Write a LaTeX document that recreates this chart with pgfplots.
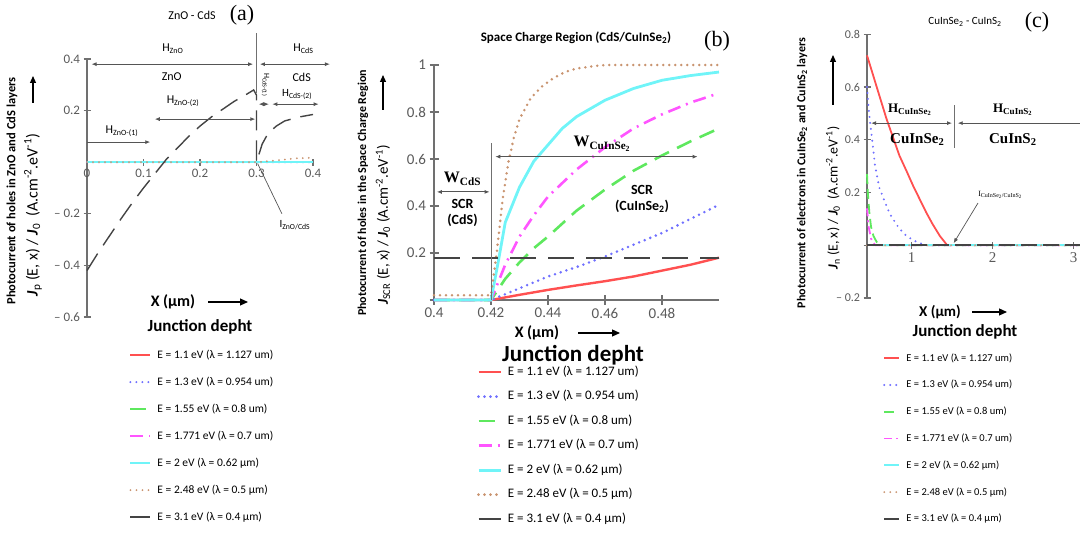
\documentclass[border=0pt]{standalone}
\usepackage{pgfplots}
\pgfplotsset{compat=1.18}
\usepackage{fontspec}
\setmainfont{Carlito}
\newfontfamily\serif{Liberation Serif}
\usetikzlibrary{arrows.meta}

\definecolor{cRed}{HTML}{FF5050}
\definecolor{cBlue}{HTML}{7070FF}
\definecolor{cGreen}{HTML}{5EE85E}
\definecolor{cMag}{HTML}{FF55FF}
\definecolor{cCyan}{HTML}{70F4F8}
\definecolor{cBrown}{HTML}{C99470}
\definecolor{cBlack}{HTML}{444444}
\definecolor{axgray}{HTML}{707070}
\definecolor{tickgray}{HTML}{5A5A5A}
\definecolor{anngray}{HTML}{555555}

\newcommand{\fs}[1]{\fontsize{#1}{#1}\selectfont}

\tikzset{
  s1/.style={cRed, line width=#1, solid},
  s2/.style={cBlue, line width=#1+0.6pt, line cap=round, dash pattern=on 0pt off 6pt},
  s3/.style={cGreen, line width=#1, dash pattern=on 16pt off 9pt},
  s4/.style={cMag, line width=#1, dash pattern=on 13pt off 6pt on 2pt off 6pt},
  s5/.style={cCyan, line width=#1, solid},
  s6/.style={cBrown, line width=#1+0.6pt, line cap=round, dash pattern=on 0pt off 6pt},
  s7/.style={cBlack, line width=#1, dash pattern=on 20pt off 10pt},
  ann/.style={anngray, line width=0.9pt, {Latex[length=5pt,width=4pt]}-{Latex[length=5pt,width=4pt]}},
}
\pgfplotsset{
  panel/.style={
    scale only axis, anchor=south west, clip=false,
    axis line style={axgray, line width=2pt},
    tick style={axgray, line width=1.2pt},
    tick align=center, major tick length=7pt,
    ticklabel style={text=tickgray},
    /pgf/number format/assume math mode=true,
    hide obscured x ticks=false, hide obscured y ticks=false,
    legend cell align=left,
    legend image code/.code={\draw[##1] (0pt,0pt) -- (20pt,0pt);},
    legend style={draw=none, fill=none, anchor=north west,
      /tikz/every odd column/.append style={column sep=6pt},
      nodes={inner sep=0pt, text height=9pt, text depth=3pt, font=\fs{11.5}}},
  },
}

\begin{document}
\begin{tikzpicture}[font=\fs{12}]
\useasboundingbox (0,0) rectangle (1080pt,533pt);

% ---------------- panel (a): ZnO - CdS ----------------
\begin{axis}[panel,
  at={(87pt,216pt)}, width=226pt, height=258pt,
  xmin=0, xmax=0.4, ymin=-0.6, ymax=0.4,
  axis x line*=middle, axis y line*=left,
  xtick={0,0.1,0.2,0.3,0.4}, xticklabels={0,0.1,0.2,0.3,0.4},
  ytick={-0.6,-0.4,-0.2,0.2,0.4}, yticklabels={– 0.6,– 0.4,– 0.2,0.2,0.4},
  ticklabel style={font=\fs{13}},
  legend style={at={(0.173,-0.116)}, row sep=15pt},
]
\addplot[s1=1.6pt] coordinates {(0,0) (0.4,0)};
\addlegendentry{E = 1.1 eV (λ = 1.127 um)}
\addplot[s2=1.6pt] coordinates {(0,0) (0.4,0)};
\addlegendentry{E = 1.3 eV (λ = 0.954 um)}
\addplot[s3=1.6pt] coordinates {(0,0) (0.4,0)};
\addlegendentry{E = 1.55 eV (λ = 0.8 um)}
\addplot[s4=1.6pt] coordinates {(0,0) (0.4,0)};
\addlegendentry{E = 1.771 eV (λ = 0.7 um)}
\addplot[s5=2pt] coordinates {(0,0) (0.4,0)};
\addlegendentry{E = 2 eV (λ = 0.62 µm)}
\addplot[s6=1.4pt] coordinates {(0,0) (0.3,0) (0.34,0.008) (0.37,0.015) (0.4,0.017)};
\addlegendentry{E = 2.48 eV (λ = 0.5 µm)}
\addplot[s7=1.4pt] coordinates {
  (0,-0.42) (0.02,-0.35) (0.04,-0.285) (0.06,-0.22) (0.08,-0.158) (0.1,-0.1)
  (0.12,-0.045) (0.14,0.01) (0.16,0.055) (0.18,0.1) (0.2,0.14) (0.22,0.175)
  (0.24,0.205) (0.26,0.235) (0.28,0.26) (0.295,0.28) (0.3,0.26) (0.3,0.0)
  (0.31,0.07) (0.32,0.11) (0.335,0.14) (0.35,0.16) (0.375,0.175) (0.4,0.185)};
\addlegendentry{E = 3.1 eV (λ = 0.4 µm)}
% layer annotations
\draw[axgray, line width=0.8pt] (axis cs:0.3,0.5) -- (axis cs:0.3,0.27);
\draw[ann] (axis cs:0.008,0.38) -- (axis cs:0.294,0.38);
\draw[ann] (axis cs:0.306,0.38) -- (axis cs:0.43,0.38);
\node[font=\fs{12}] at (axis cs:0.152,0.44) {H\textsubscript{ZnO}};
\node[font=\fs{12}] at (axis cs:0.383,0.44) {H\textsubscript{CdS}};
\node[font=\fs{12}] at (axis cs:0.15,0.33) {ZnO};
\node[font=\fs{12}] at (axis cs:0.38,0.33) {CdS};
\node[rotate=-90, font=\fs{8}] at (axis cs:0.316,0.30) {H\textsubscript{CdS-(1)}};
\draw[ann] (axis cs:0.304,0.225) -- (axis cs:0.322,0.225);
\draw[ann] (axis cs:0.328,0.225) -- (axis cs:0.41,0.225);
\node[font=\fs{11}] at (axis cs:0.372,0.262) {H\textsubscript{CdS-(2)}};
\draw[ann] (axis cs:0.12,0.167) -- (axis cs:0.298,0.167);
\node[font=\fs{12}] at (axis cs:0.17,0.235) {H\textsubscript{ZnO-(2)}};
\draw[anngray, line width=0.9pt, -{Latex[length=5pt,width=4pt]}] (axis cs:0,0.078) -- (axis cs:0.112,0.078);
\node[font=\fs{12}] at (axis cs:0.062,0.12) {H\textsubscript{ZnO-(1)}};
\draw[anngray, line width=0.7pt] (axis cs:0.302,-0.005) -- (axis cs:0.345,-0.2);
\node[font=\fs{11}] at (axis cs:0.368,-0.245) {I\textsubscript{ZnO/CdS}};
\end{axis}

% ---------------- panel (b): space charge region ----------------
\begin{axis}[panel,
  at={(434pt,233pt)}, width=285pt, height=235pt,
  xmin=0.4, xmax=0.5, ymin=0, ymax=1,
  axis x line*=bottom, axis y line*=left,
  axis line style={line width=2.6pt}, major tick length=9pt,
  xtick={0.4,0.42,0.44,0.46,0.48}, xticklabels={0.4,0.42,0.44,0.46,0.48},
  ytick={0,0.2,0.4,0.6,0.8,1}, yticklabels={,0.2,0.4,0.6,0.8,1},
  ticklabel style={font=\fs{15}},
  legend image code/.code={\draw[#1] (0pt,0pt) -- (22pt,0pt);},
  legend style={at={(0.14,-0.272)}, row sep=12.5pt,
    nodes={font=\fs{13}}},
]
\addplot[s1=2.4pt] coordinates {(0.4,0) (0.42,0) (0.43,0.022) (0.44,0.043) (0.45,0.062)
  (0.46,0.08) (0.47,0.1) (0.48,0.125) (0.49,0.15) (0.5,0.18)};
\addlegendentry{E = 1.1 eV (λ = 1.127 um)}
\addplot[s2=2.2pt] coordinates {(0.4,0) (0.42,0) (0.43,0.05) (0.44,0.1) (0.45,0.14)
  (0.46,0.185) (0.47,0.235) (0.48,0.285) (0.49,0.345) (0.5,0.405)};
\addlegendentry{E = 1.3 eV (λ = 0.954 um)}
\addplot[s3=2.6pt] coordinates {(0.4,0) (0.42,0) (0.425,0.09) (0.43,0.16) (0.435,0.22)
  (0.44,0.27) (0.45,0.38) (0.46,0.47) (0.47,0.55) (0.48,0.615) (0.49,0.675) (0.5,0.73)};
\addlegendentry{E = 1.55 eV (λ = 0.8 um)}
\addplot[s4=2.6pt] coordinates {(0.4,0) (0.42,0) (0.425,0.15) (0.43,0.27) (0.435,0.36)
  (0.44,0.44) (0.45,0.555) (0.46,0.65) (0.47,0.73) (0.48,0.79) (0.49,0.84) (0.5,0.88)};
\addlegendentry{E = 1.771 eV (λ = 0.7 um)}
\addplot[s5=2.8pt] coordinates {(0.4,0) (0.42,0) (0.4225,0.16) (0.425,0.33) (0.43,0.48)
  (0.435,0.59) (0.44,0.66) (0.445,0.73) (0.45,0.78) (0.46,0.85) (0.47,0.9)
  (0.48,0.935) (0.49,0.955) (0.5,0.97)};
\addlegendentry{E = 2 eV (λ = 0.62 µm)}
\addplot[s6=2.2pt] coordinates {(0.4,0.02) (0.42,0.02) (0.422,0.2) (0.424,0.42)
  (0.426,0.58) (0.428,0.69) (0.43,0.77) (0.434,0.86) (0.438,0.91) (0.442,0.945)
  (0.446,0.97) (0.45,0.985) (0.456,0.995) (0.46,1.0) (0.5,1.0)};
\addlegendentry{E = 2.48 eV (λ = 0.5 µm)}
\addplot[s7=2.2pt, dash pattern=on 26pt off 12pt] coordinates {(0.4,0.18) (0.5,0.18)};
\addlegendentry{E = 3.1 eV (λ = 0.4 µm)}
% region annotations
\draw[axgray, line width=1pt] (axis cs:0.42,0) -- (axis cs:0.42,0.67);
\draw[ann] (axis cs:0.401,0.46) -- (axis cs:0.4195,0.46);
\node[font=\serif\bfseries\fs{16}] at (axis cs:0.41,0.515) {W\textsubscript{CdS}};
\node[font=\bfseries\fs{14}] at (axis cs:0.41,0.41) {SCR};
\node[font=\bfseries\fs{14}] at (axis cs:0.41,0.34) {(CdS)};
\draw[ann] (axis cs:0.4215,0.61) -- (axis cs:0.4925,0.61);
\node[font=\serif\bfseries\fs{16}] at (axis cs:0.459,0.665) {W\textsubscript{CuInSe\textsubscript{2}}};
\node[font=\bfseries\fs{14}] at (axis cs:0.473,0.47) {SCR};
\node[font=\bfseries\fs{14}] at (axis cs:0.473,0.40) {(CuInSe\textsubscript{2})};
\end{axis}

% ---------------- panel (c): CuInSe2 - CuInS2 ----------------
\begin{axis}[panel,
  at={(867pt,235pt)}, width=214.65pt, height=263.75pt,
  xmin=0.45, xmax=3.1, ymin=-0.2, ymax=0.8,
  axis x line*=middle, axis y line*=left,
  x axis line style={black, line width=2.4pt},
  xtick={1,2,3}, xticklabels={1,2,3},
  xticklabel style={font=\serif\fs{15}},
  ytick={-0.2,0,0.2,0.4,0.6,0.8}, yticklabels={– 0.2,,0.2,0.4,0.6,0.8},
  yticklabel style={font=\fs{12}},
  legend image code/.code={\draw[#1] (0pt,0pt) -- (15pt,0pt);},
  legend style={at={(0.06,-0.197)}, row sep=14.8pt, nodes={font=\fs{10.5}}},
]
\addplot[s1=1.8pt] coordinates {(0.45,0.72) (0.53,0.64) (0.61,0.56) (0.69,0.48)
  (0.77,0.41) (0.85,0.34) (0.94,0.28) (1.02,0.225) (1.1,0.175) (1.18,0.125)
  (1.26,0.08) (1.35,0.035) (1.44,0.0)};
\addlegendentry{E = 1.1 eV (λ = 1.127 um)}
\addplot[s2=1.6pt] coordinates {(0.45,0.6) (0.47,0.52) (0.49,0.46) (0.51,0.41)
  (0.55,0.3) (0.6,0.22) (0.65,0.18) (0.73,0.12) (0.82,0.076) (0.9,0.045)
  (0.98,0.027) (1.08,0.01) (1.2,0) (3.1,0)};
\addlegendentry{E = 1.3 eV (λ = 0.954 um)}
\addplot[s3=1.8pt, dash pattern=on 10pt off 5pt] coordinates {(0.45,0.27) (0.46,0.2)
  (0.48,0.12) (0.5,0.07) (0.53,0.035) (0.57,0.012) (0.62,0) (3.1,0)};
\addlegendentry{E = 1.55 eV (λ = 0.8 um)}
\addplot[s4=1.8pt, dash pattern=on 8pt off 4pt on 2pt off 4pt] coordinates {(0.45,0.14)
  (0.47,0.07) (0.5,0.025) (0.55,0) (3.1,0)};
\addlegendentry{E = 1.771 eV (λ = 0.7 um)}
\addplot[s5=2.2pt] coordinates {(0.45,0) (3.1,0)};
\addlegendentry{E = 2 eV (λ = 0.62 µm)}
\addplot[s6=1.4pt] coordinates {(0.45,0) (3.1,0)};
\addlegendentry{E = 2.48 eV (λ = 0.5 µm)}
\addplot[s7=2.4pt, dash pattern=on 16pt off 6pt] coordinates {(0.45,0) (3.1,0)};
\addlegendentry{E = 3.1 eV (λ = 0.4 µm)}
% layer annotations
\draw[ann] (axis cs:0.5,0.463) -- (axis cs:1.5,0.463);
\draw[ann] (axis cs:1.57,0.463) -- (axis cs:3.2,0.463);
\draw[axgray, line width=0.8pt] (axis cs:1.535,0.53) -- (axis cs:1.535,0.37);
\node[font=\serif\bfseries\fs{13}] at (axis cs:0.98,0.515) {H\textsubscript{CuInSe\textsubscript{2}}};
\node[font=\serif\bfseries\fs{15}] at (axis cs:1.07,0.40) {CuInSe\textsubscript{2}};
\node[font=\serif\bfseries\fs{13}] at (axis cs:2.25,0.515) {H\textsubscript{CuInS\textsubscript{2}}};
\node[font=\serif\bfseries\fs{15}] at (axis cs:2.25,0.40) {CuInS\textsubscript{2}};
\draw[anngray, line width=0.7pt, -{Latex[length=5pt,width=4pt]}] (axis cs:1.82,0.16) -- (axis cs:1.52,0.008);
\node[font=\serif\fs{8}, anchor=west] at (axis cs:1.78,0.19) {I\textsubscript{CuInSe\textsubscript{2}/CuInS\textsubscript{2}}};
\end{axis}

% ---------------- titles ----------------
\node[font=\fs{12}] at (192pt,518pt) {ZnO - CdS};
\node[font=\serif\fs{22}] at (242pt,518pt) {(a)};
\node[font=\bfseries\fs{13}] at (576pt,495pt) {Space Charge Region (CdS/CuInSe\textsubscript{2})};
\node[font=\serif\fs{22}] at (717pt,492pt) {(b)};
\node[font=\fs{11}] at (965pt,511pt) {CuInSe\textsubscript{2} - CuInS\textsubscript{2}};
\node[font=\serif\fs{22}] at (1037pt,511pt) {(c)};

% ---------------- y labels ----------------
\node[rotate=90, font=\bfseries\fs{12.5}] at (12pt,342pt) {Photocurrent of holes in ZnO and CdS layers};
\node[rotate=90, font=\fs{16}] at (33pt,318pt) {\textbf{\textit{J}}\textsubscript{p} (E, x) / \textbf{\textit{J}}\textsubscript{0} \ (A.cm\textsuperscript{-2}.eV\textsuperscript{-1})};
\draw[black, line width=1.2pt, -{Triangle[length=7pt,width=6pt]}] (33pt,430pt) -- (33pt,457pt);

\node[rotate=90, font=\bfseries\fs{12}] at (363pt,340pt) {Photocurrent of holes in the Space Charge Region};
\node[rotate=90, font=\fs{15}] at (383pt,308pt) {\textbf{\textit{J}}\textsubscript{SCR} (E, x) / \textbf{\textit{J}}\textsubscript{0} (A.cm\textsuperscript{-2}.eV\textsuperscript{-1})};
\draw[black, line width=1.2pt, -{Triangle[length=7pt,width=6pt]}] (383pt,423pt) -- (383pt,458pt);

\node[rotate=90, font=\bfseries\fs{12}] at (802pt,360pt) {Photocurrent of electrons in CuInSe\textsubscript{2} and CuInS\textsubscript{2} layers};
\node[rotate=90, font=\fs{14}] at (833pt,335pt) {\textbf{\textit{J}}\textsubscript{n} (E, x) / \textbf{\textit{J}}\textsubscript{0} \ (A.cm\textsuperscript{-2}.eV\textsuperscript{-1})};
\draw[black, line width=1.2pt, -{Triangle[length=7pt,width=6pt]}] (833pt,428pt) -- (833pt,478pt);

% ---------------- x labels ----------------
\node[font=\bfseries\fs{16}] at (173pt,231pt) {X (µm)};
\draw[black, line width=1.2pt, -{Triangle[length=8pt,width=7pt]}] (208pt,231pt) -- (248pt,231pt);
\node[font=\bfseries\fs{17}] at (200pt,206pt) {Junction depht};

\node[font=\bfseries\fs{16}] at (537pt,200pt) {X (µm)};
\draw[black, line width=1.2pt, -{Triangle[length=8pt,width=7pt]}] (578pt,200pt) -- (620pt,200pt);
\node[font=\bfseries\fs{23}] at (573pt,178pt) {Junction depht};

\node[font=\bfseries\fs{15}] at (940pt,221pt) {X (µm)};
\draw[black, line width=1.2pt, -{Triangle[length=8pt,width=7pt]}] (972pt,221pt) -- (1007pt,221pt);
\node[font=\bfseries\fs{17}] at (965pt,201pt) {Junction depht};
\end{tikzpicture}
\end{document}
